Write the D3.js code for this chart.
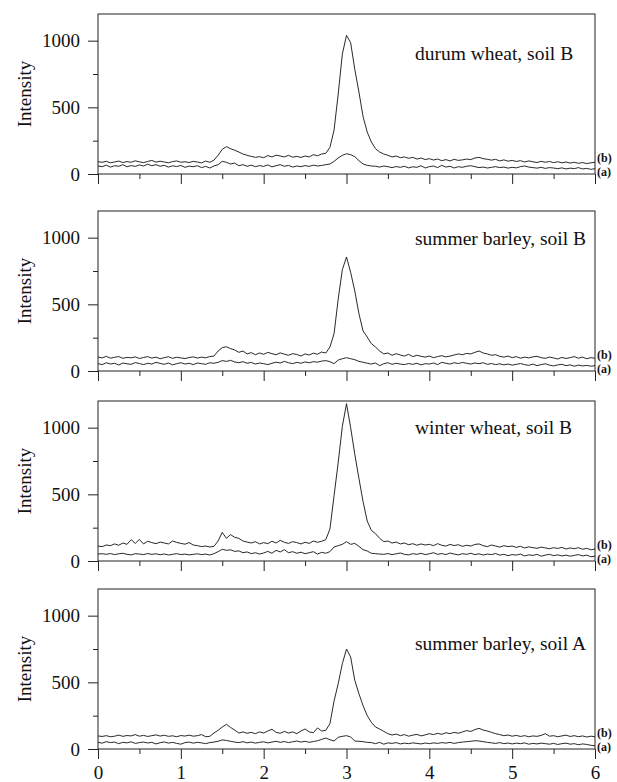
<!DOCTYPE html>
<html><head><meta charset="utf-8">
<script src="https://cdn.jsdelivr.net/npm/d3@7"></script>
<style>body{margin:0;background:#fff}svg{display:block}</style>
</head><body>
<svg id="chart" width="617" height="782"></svg>
<script>
// ---------- data ----------
const panelTitles = ["durum wheat, soil B", "summer barley, soil B", "winter wheat, soil B", "summer barley, soil A"];
const seriesLabels = ["(b)", "(a)"];
const xMajorTicks = [0, 1, 2, 3, 4, 5, 6];
const xMinorTicks = [0.5, 1.5, 2.5, 3.5, 4.5, 5.5];
const yMajorTicks = [0, 500, 1000];
const yMinorTicks = [250, 750];
const xDomain = [0, 6];
const yDomain = [0, 1200];

// intensity samples, evenly spaced from x = 0 to x = 6 (step 0.05)
const b1 = [92,88,95,84,90,97,86,93,88,99,91,85,94,102,89,96,90,84,93,98,88,92,86,95,90,83,97,88,104,
 140,185,205,190,178,165,150,140,132,125,130,122,138,128,141,135,128,140,126,132,124,135,128,145,137,150,155,200,330,600,900,
 1040,985,785,615,430,315,240,190,165,150,140,128,135,122,128,118,125,112,120,108,115,105,112,100,108,98,110,102,106,112,108,
 120,125,115,110,104,110,98,106,96,102,94,100,90,98,92,86,95,88,94,85,92,84,90,82,88,80,86,78,84,88];
const a1 = [60,55,66,52,62,58,70,54,63,57,68,60,74,62,70,58,65,52,61,56,64,50,59,55,62,48,57,45,60,
 70,95,88,75,82,62,70,58,66,55,63,57,68,54,62,70,58,64,52,60,55,63,57,66,60,64,70,75,95,120,140,
 152,145,130,100,75,65,60,58,52,60,55,48,56,50,58,46,54,50,62,45,55,60,48,65,52,58,45,55,50,58,62,
 55,48,52,45,50,55,48,52,44,50,46,55,60,52,48,44,50,42,48,45,40,46,38,44,40,48,38,42,35,40];
const b2 = [105,98,110,96,103,108,95,102,99,106,94,101,108,97,104,92,100,107,95,103,98,93,101,106,97,104,99,108,112,
 150,175,182,168,158,140,150,128,138,122,135,125,140,130,122,136,126,118,130,124,112,128,120,134,126,142,135,180,280,540,760,
 855,740,600,430,300,255,205,180,150,128,135,118,130,120,112,125,108,118,110,104,112,100,108,115,106,112,120,128,122,132,128,
 140,150,135,128,118,122,110,104,112,100,108,96,104,98,106,110,100,95,104,98,90,102,94,100,108,96,104,92,100,96];
const a2 = [55,48,62,52,58,45,60,54,50,63,56,48,58,52,65,57,50,60,46,55,62,52,58,48,60,55,50,62,58,
 65,78,72,80,68,62,70,58,64,52,60,55,48,58,66,60,72,62,55,65,58,68,62,70,66,74,78,70,55,82,92,
 100,92,85,72,66,58,52,60,40,55,62,50,58,52,48,56,50,58,46,55,52,60,48,65,58,52,62,56,64,58,52,
 60,55,62,50,56,48,54,46,52,44,50,56,48,42,52,40,48,54,44,38,46,50,40,46,36,44,38,42,36,40];
const b3 = [112,108,120,115,128,118,135,125,160,132,162,128,148,138,130,142,135,128,150,140,132,126,138,120,115,108,112,105,110,
 150,215,170,198,178,170,150,142,135,145,128,138,130,148,135,155,140,132,145,138,128,140,132,150,140,148,160,240,490,740,1010,
 1180,1000,800,620,445,300,230,205,170,145,150,135,142,128,135,122,130,118,128,120,125,115,130,118,112,124,116,122,110,118,112,
 124,128,115,108,120,112,104,115,108,112,102,110,98,106,100,95,104,98,92,100,94,102,90,98,92,100,88,95,84,90];
const a3 = [52,55,50,56,48,54,58,50,46,55,52,48,56,50,54,47,53,45,50,55,48,52,46,50,54,48,52,45,55,
 70,88,80,84,72,76,62,68,55,62,52,60,72,58,80,68,85,62,70,58,66,55,62,70,52,65,58,70,105,115,125,
 145,125,132,110,85,75,58,55,52,50,56,48,54,60,50,46,55,50,58,48,54,62,50,56,48,60,52,46,55,50,58,
 48,54,45,52,48,56,44,50,40,48,44,52,38,46,42,50,36,44,50,40,46,38,44,36,42,48,38,44,32,36];
const b4 = [98,94,100,92,96,104,95,101,98,108,96,102,94,100,106,97,103,95,99,92,101,97,104,96,100,108,92,95,120,
 140,165,185,162,142,120,128,118,125,115,128,120,135,148,125,118,132,120,128,115,135,150,128,122,158,135,140,190,360,490,640,
 750,690,515,415,325,250,200,165,150,132,115,105,112,100,108,96,104,110,98,106,115,108,118,110,122,115,125,118,128,138,132,
 145,155,142,135,125,115,108,100,105,96,102,94,100,92,98,95,102,115,96,100,92,98,104,94,100,92,98,90,96,92];
const a4 = [50,44,55,48,52,40,50,46,54,42,48,52,45,50,38,47,53,44,50,42,36,48,52,44,50,46,40,48,52,
 58,68,64,58,52,48,55,46,52,44,50,54,46,52,58,50,56,48,54,60,52,58,50,56,62,72,82,70,60,88,95,
 100,90,60,58,55,50,48,40,50,36,46,42,48,38,44,40,46,42,38,45,40,46,42,48,44,50,42,48,52,55,58,
 62,60,55,50,46,42,48,40,45,38,44,40,46,36,42,38,44,40,36,42,34,40,44,36,40,32,38,34,28,24];

const panelSeries = [[b1, a1], [b2, a2], [b3, a3], [b4, a4]];

// ---------- layout ----------
const FONT = "'Liberation Serif','Times New Roman',serif";
const left = 98, right = 595, plotH = 160;
const panelTops = [14, 211, 401, 589];
const titleOffsets = [46, 34, 33, 61];

const svg = d3.select("#chart");
const x = d3.scaleLinear().domain(xDomain).range([left, right]);

panelSeries.forEach((series, p) => {
  const top = panelTops[p], zero = top + plotH;
  const y = d3.scaleLinear().domain(yDomain).range([zero, top]);
  const g = svg.append("g");
  const isLast = p === panelSeries.length - 1;

  const xMaj = d3.axisBottom(x).tickValues(xMajorTicks).tickSize(10).tickPadding(6.5)
    .tickFormat(isLast ? d3.format("d") : () => "");
  const gx = g.append("g").attr("transform", `translate(0,${zero})`).call(xMaj);
  const xMin = d3.axisBottom(x).tickValues(xMinorTicks).tickSize(5).tickFormat(() => "");
  const gx2 = g.append("g").attr("transform", `translate(0,${zero})`).call(xMin);

  const yMaj = d3.axisLeft(y).tickValues(yMajorTicks).tickSize(10).tickPadding(8).tickFormat(d3.format("d"));
  const gy = g.append("g").attr("transform", `translate(${left},0)`).call(yMaj);
  const yMin = d3.axisLeft(y).tickValues(yMinorTicks).tickSize(5).tickFormat(() => "");
  const gy2 = g.append("g").attr("transform", `translate(${left},0)`).call(yMin);

  [gx, gx2, gy, gy2].forEach(a => {
    a.select(".domain").remove();
    a.selectAll("line").attr("stroke", "#222").attr("stroke-width", 1);
    a.selectAll("text").attr("font-family", FONT).attr("font-size", 19).attr("fill", "#111");
  });
  // drop empty tick text nodes
  [gx, gx2, gy2].forEach(a => a.selectAll("text").filter(function () { return this.textContent === ""; }).remove());

  g.append("rect").attr("x", left).attr("y", top).attr("width", right - left).attr("height", plotH)
    .attr("fill", "none").attr("stroke", "#222").attr("stroke-width", 1);

  g.append("text").attr("transform", `translate(31,${(top + zero) / 2}) rotate(-90)`)
    .attr("text-anchor", "middle").attr("font-family", FONT).attr("font-size", 19).attr("fill", "#111")
    .text("Intensity");

  series.forEach(vals => {
    const n = vals.length;
    const line = d3.line().x((d, i) => x(xDomain[0] + i * (xDomain[1] - xDomain[0]) / (n - 1))).y(d => y(d));
    g.append("path").datum(vals).attr("d", line).attr("fill", "none")
      .attr("stroke", "#111").attr("stroke-width", 0.9).attr("stroke-linejoin", "round");
  });

  g.append("text").attr("x", 415).attr("y", top + titleOffsets[p])
    .attr("font-family", FONT).attr("font-size", 19.5).attr("fill", "#111").text(panelTitles[p]);

  seriesLabels.forEach((lab, k) => {
    g.append("text").attr("x", 597).attr("y", zero - (k === 0 ? 16.5 : 2.5))
      .attr("dominant-baseline", "central").attr("font-family", FONT).attr("font-weight", "bold")
      .attr("font-size", 12).attr("fill", "#111").text(lab);
  });
});
</script>
</body></html>
